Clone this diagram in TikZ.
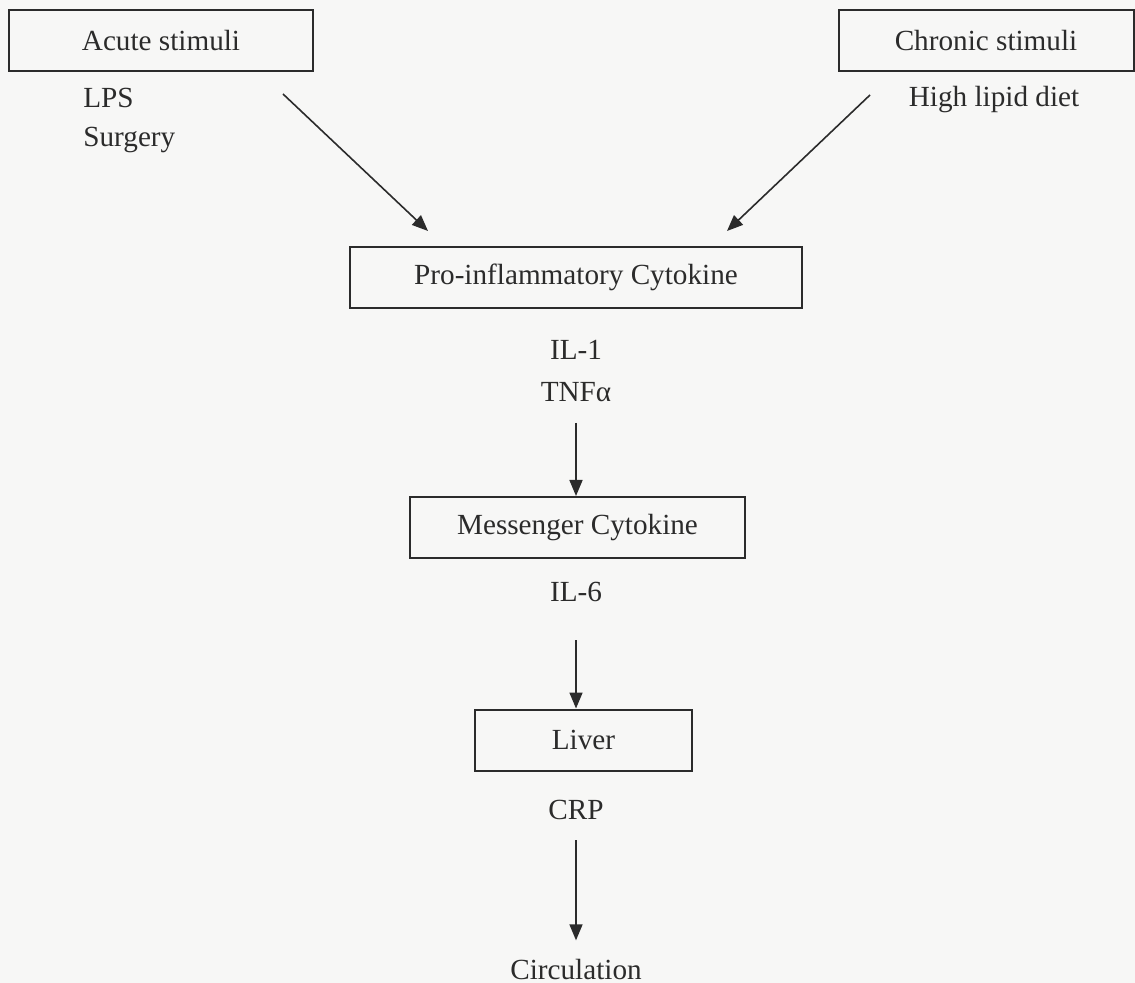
\documentclass[tikz,border=0pt]{standalone}
\usepackage{fontspec}
\setmainfont{Liberation Serif}
\usetikzlibrary{arrows.meta}
\definecolor{ink}{HTML}{2B2B2B}
\definecolor{paper}{HTML}{F7F7F6}
\begin{document}
\begin{tikzpicture}[x=0.5pt,y=-0.5pt,
    every node/.style={font=\fontsize{14.6}{17}\selectfont, text=ink, inner sep=0pt},
    box/.style={draw=ink, line width=1pt, minimum height=30.5pt},
    arr/.style={draw=ink, line width=0.8pt, -{Triangle[length=8pt,width=6.5pt]}}]
   \fill[paper] (0,0) rectangle (1135,983);
   % stimuli
   \node[box, minimum width=152pt] (acute) at (161,40.5) {Acute stimuli};
   \node[anchor=base west] (lps) at (83,108) {LPS};
   \node[anchor=base west] (surgery) at (83,147) {Surgery};
   \node[box, minimum width=147.5pt] (chronic) at (986,40.5) {Chronic stimuli};
   \node[anchor=base] (lipid) at (994,107) {High lipid diet};
   % cascade
   \node[box, minimum width=226pt] (pro) at (576,277.5) {Pro-inflammatory Cytokine};
   \node[anchor=base] (il1) at (576,360) {IL-1};
   \node[anchor=base] (tnf) at (576,402) {TNFα};
   \node[box, minimum width=167.5pt] (msg) at (577.5,527.5) {Messenger Cytokine};
   \node[anchor=base] (il6) at (576,602) {IL-6};
   \node[box, minimum width=108.5pt] (liver) at (583.5,740) {Liver};
   \node[anchor=base] (crp) at (576,819) {CRP};
   \node[anchor=base] (circ) at (576,979) {Circulation};
   \coordinate (acuteout) at (283,94);
   \coordinate (acutein) at (428,231);
   \coordinate (chronicout) at (870,95);
   \coordinate (chronicin) at (727,231);
   \coordinate (tnfout) at (576,423);
   \coordinate (il6out) at (576,640);
   \coordinate (crpout) at (576,840);
   \draw[arr] (acuteout) -- (acutein);
   \draw[arr] (chronicout) -- (chronicin);
   \draw[arr] (tnfout) -- (tnfout |- msg.north);
   \draw[arr] (il6out) -- (il6out |- liver.north);
   \draw[arr, shorten >=9pt] (crpout) -- (circ.north);
\end{tikzpicture}
\end{document}
